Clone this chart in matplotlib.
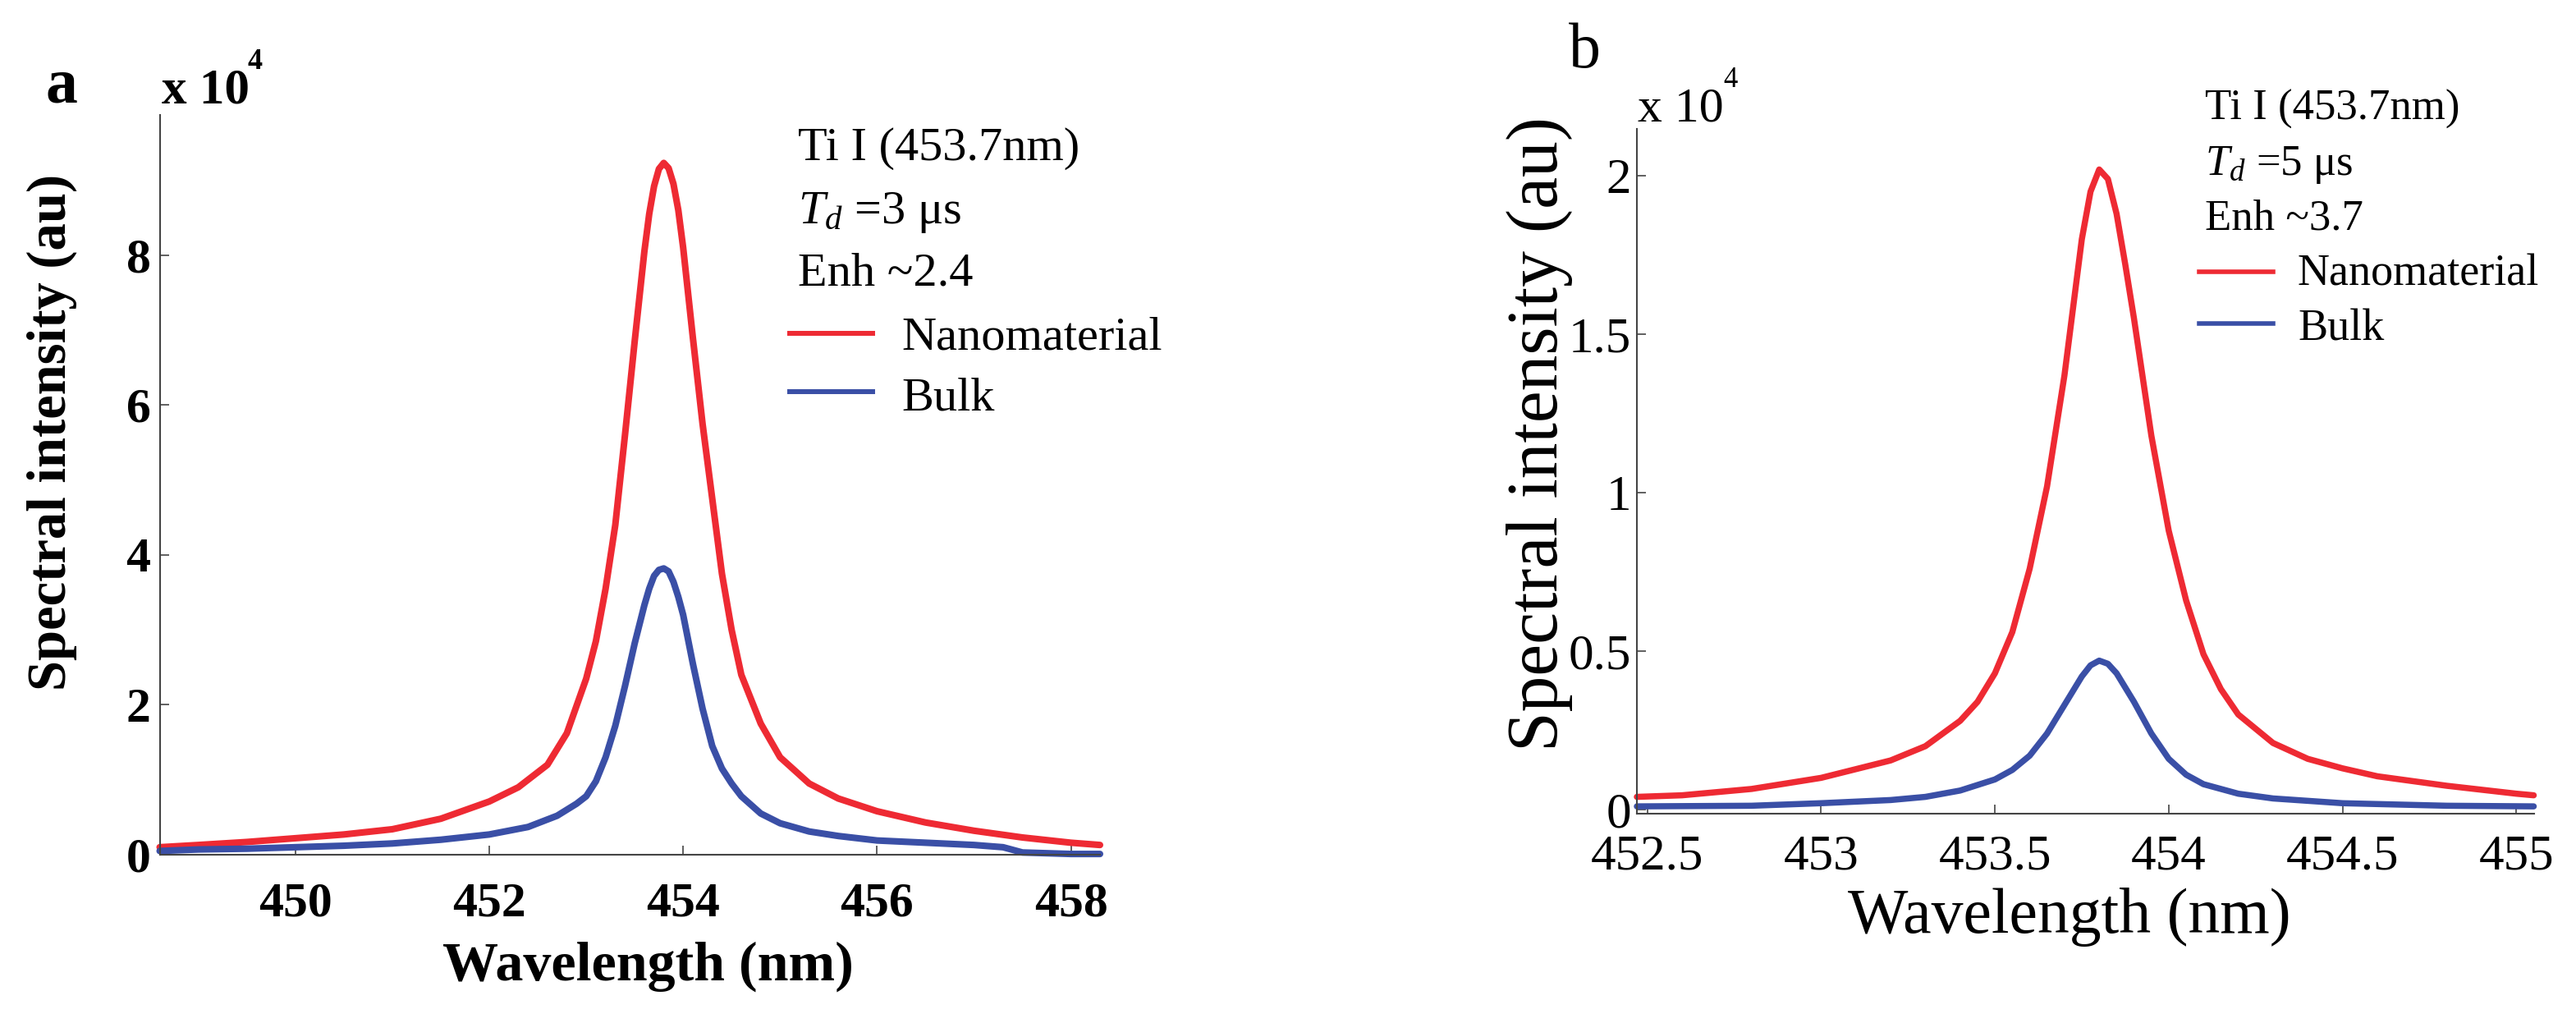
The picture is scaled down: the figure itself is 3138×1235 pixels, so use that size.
import matplotlib
matplotlib.use('Agg')
import matplotlib.pyplot as plt
from matplotlib.lines import Line2D

plt.rcParams['font.family'] = ['Liberation Serif', 'DejaVu Serif']
plt.rcParams['mathtext.fontset'] = 'custom'
plt.rcParams['mathtext.it'] = 'Liberation Serif:italic'
plt.rcParams['mathtext.rm'] = 'Liberation Serif'

# panel a : Td = 3 us
wl_red_a = [448.6, 449.0, 449.5, 450.0, 450.5, 451.0, 451.5, 452.0, 452.3, 452.6, 452.8,
            453.0, 453.1, 453.2, 453.3, 453.4, 453.5, 453.6, 453.65, 453.7, 453.75, 453.8,
            453.85, 453.9, 453.95, 454.0, 454.1, 454.2, 454.3, 454.4, 454.5, 454.6, 454.8,
            455.0, 455.3, 455.6, 456.0, 456.5, 457.0, 457.5, 458.0, 458.3]
int_red_a = [0.10, 0.13, 0.17, 0.22, 0.27, 0.34, 0.48, 0.71, 0.90, 1.20, 1.62,
             2.35, 2.85, 3.55, 4.40, 5.60, 6.85, 8.05, 8.55, 8.92, 9.15, 9.23,
             9.16, 8.95, 8.60, 8.10, 6.90, 5.75, 4.75, 3.75, 3.00, 2.40, 1.75,
             1.30, 0.95, 0.75, 0.58, 0.43, 0.32, 0.23, 0.16, 0.13]
wl_blue_a = [448.6, 449.0, 449.5, 450.0, 450.5, 451.0, 451.5, 452.0, 452.4, 452.7, 452.9,
             453.0, 453.1, 453.2, 453.3, 453.4, 453.5, 453.6, 453.65, 453.7, 453.75, 453.8,
             453.85, 453.9, 453.95, 454.0, 454.1, 454.2, 454.3, 454.4, 454.5, 454.6, 454.8,
             455.0, 455.3, 455.6, 456.0, 456.5, 457.0, 457.3, 457.5, 458.0, 458.3]
int_blue_a = [0.05, 0.07, 0.08, 0.10, 0.12, 0.15, 0.20, 0.27, 0.37, 0.52, 0.68,
              0.78, 0.98, 1.30, 1.72, 2.25, 2.82, 3.33, 3.55, 3.72, 3.80, 3.82,
              3.78, 3.64, 3.44, 3.20, 2.55, 1.95, 1.45, 1.15, 0.95, 0.78, 0.55,
              0.42, 0.31, 0.25, 0.19, 0.16, 0.13, 0.10, 0.03, 0.01, 0.01]

# panel b : Td = 5 us
wl_red_b = [452.47, 452.6, 452.8, 453.0, 453.2, 453.3, 453.4, 453.45, 453.5, 453.55, 453.6,
            453.65, 453.7, 453.75, 453.775, 453.8, 453.825, 453.85, 453.875, 453.9, 453.95,
            454.0, 454.05, 454.1, 454.15, 454.2, 454.3, 454.4, 454.5, 454.6, 454.8, 455.0,
            455.05]
int_red_b = [0.040, 0.045, 0.065, 0.10, 0.155, 0.20, 0.28, 0.34, 0.43, 0.56, 0.76,
             1.02, 1.37, 1.80, 1.95, 2.02, 1.99, 1.88, 1.72, 1.55, 1.18,
             0.88, 0.66, 0.49, 0.38, 0.30, 0.21, 0.16, 0.13, 0.105, 0.075, 0.05,
             0.045]
wl_blue_b = [452.47, 452.8, 453.0, 453.2, 453.3, 453.4, 453.5, 453.55, 453.6, 453.65, 453.7,
             453.75, 453.775, 453.8, 453.825, 453.85, 453.9, 453.95, 454.0, 454.05, 454.1,
             454.2, 454.3, 454.5, 454.8, 455.05]
int_blue_b = [0.010, 0.012, 0.02, 0.03, 0.04, 0.06, 0.095, 0.125, 0.17, 0.24, 0.33,
              0.42, 0.455, 0.47, 0.46, 0.43, 0.34, 0.24, 0.16, 0.11, 0.08,
              0.05, 0.035, 0.02, 0.012, 0.010]

xticks_a = [450, 452, 454, 456, 458]
yticks_a = [0, 2, 4, 6, 8]
xticks_b = [452.5, 453, 453.5, 454, 454.5, 455]
yticks_b = [0, 0.5, 1, 1.5, 2]
ytick_labels_b = ['0', '0.5', '1', '1.5', '2']

RED = '#EE2A33'
BLUE = '#3A4FA6'
W, H = 3138, 1235

fig = plt.figure(figsize=(W / 100, H / 100), dpi=100)


def fx(x):
    return x / W


def fy(y):
    return 1 - y / H


def style_axes(ax, bold, xpad, ypad, size):
    for s in ['top', 'right']:
        ax.spines[s].set_visible(False)
    for s in ['left', 'bottom']:
        ax.spines[s].set_color('#444444')
        ax.spines[s].set_linewidth(1.5)
    ax.tick_params(direction='in', length=8, width=1.2, color='#444444')
    ax.tick_params(axis='x', pad=xpad, labelsize=size)
    ax.tick_params(axis='y', pad=ypad, labelsize=size)
    for lab in ax.get_xticklabels() + ax.get_yticklabels():
        lab.set_fontweight('bold' if bold else 'normal')
    for line in ax.get_lines():
        line.set_clip_on(False)


# ---------------- panel a ----------------
ax1 = fig.add_axes([fx(194.5), fy(1041), fx(1340) - fx(194.5), fy(140) - fy(1041)])
ax1.plot(wl_red_a, int_red_a, color=RED, lw=5.8, solid_capstyle='round', solid_joinstyle='round')
ax1.plot(wl_blue_a, int_blue_a, color=BLUE, lw=5.8, solid_capstyle='round', solid_joinstyle='round')
ax1.set_xlim(448.6, 458.3)
ax1.set_ylim(0, 9.87)
ax1.set_xticks(xticks_a)
ax1.set_yticks(yticks_a)
style_axes(ax1, True, 24, 8, 43)

fig.text(fx(75), fy(106), 'a', fontsize=56, fontweight='bold', ha='center', va='center')
fig.text(fx(197), fy(126), 'x 10', fontsize=44, fontweight='bold', ha='left', va='baseline')
fig.text(fx(311), fy(76), '4', fontsize=26, fontweight='bold', ha='center', va='center')
fig.text(fx(63), fy(526), 'Spectral intensity (au)', fontsize=48, fontweight='bold',
         rotation=90, ha='center', va='center')
fig.text(fx(789), fy(1177), 'Wavelength (nm)', fontsize=49, fontweight='bold',
         ha='center', va='center')

fs_leg_a = 42
fig.text(fx(972), fy(195), 'Ti I (453.7nm)', fontsize=fs_leg_a, va='baseline')
fig.text(fx(972), fy(272), r'$T_d$ =3 μs', fontsize=fs_leg_a, va='baseline')
fig.text(fx(972), fy(347), 'Enh ~2.4', fontsize=fs_leg_a, va='baseline')
fig.add_artist(Line2D([fx(962), fx(1063)], [fy(406), fy(406)], color=RED, lw=4.3))
fig.add_artist(Line2D([fx(962), fx(1063)], [fy(477), fy(477)], color=BLUE, lw=4.3))
fig.text(fx(1098), fy(425), 'Nanomaterial', fontsize=fs_leg_a, va='baseline')
fig.text(fx(1098), fy(500), 'Bulk', fontsize=fs_leg_a, va='baseline')

# ---------------- panel b ----------------
ax2 = fig.add_axes([fx(1994), fy(991), fx(3086.5) - fx(1994), fy(157) - fy(991)])
ax2.plot(wl_red_b, int_red_b, color=RED, lw=5.4, solid_capstyle='round', solid_joinstyle='round')
ax2.plot(wl_blue_b, int_blue_b, color=BLUE, lw=5.4, solid_capstyle='round', solid_joinstyle='round')
ax2.set_xlim(452.47, 455.05)
ax2.set_ylim(-0.013, 2.148)
ax2.set_xticks(xticks_b)
ax2.set_xticklabels([('%g' % v) for v in xticks_b])
ax2.set_yticks(yticks_b)
ax2.set_yticklabels(ytick_labels_b)
style_axes(ax2, False, 18, 5, 44)

fig.text(fx(1930), fy(63), 'b', fontsize=56, ha='center', va='center')
fig.text(fx(1995), fy(147), 'x 10', fontsize=43, ha='left', va='baseline')
fig.text(fx(2108), fy(98), '4', fontsize=25, ha='center', va='center')
fig.text(fx(1876), fy(528), 'Spectral intensity (au)', fontsize=63,
         rotation=90, ha='center', va='center')
fig.text(fx(2521), fy(1136), 'Wavelength (nm)', fontsize=56, ha='center', va='baseline')

fs_leg_b = 38
fig.text(fx(2686), fy(146), 'Ti I (453.7nm)', fontsize=fs_leg_b, va='baseline')
fig.text(fx(2686), fy(213), r'$T_d$ =5 μs', fontsize=fs_leg_b, va='baseline')
fig.text(fx(2686), fy(280), 'Enh ~3.7', fontsize=fs_leg_b, va='baseline')
fig.add_artist(Line2D([fx(2679), fx(2769)], [fy(331), fy(331)], color=RED, lw=4.0))
fig.add_artist(Line2D([fx(2679), fx(2769)], [fy(394), fy(394)], color=BLUE, lw=4.0))
fig.text(fx(2799), fy(348), 'Nanomaterial', fontsize=fs_leg_b + 1, va='baseline')
fig.text(fx(2799), fy(415), 'Bulk', fontsize=fs_leg_b + 1, va='baseline')

fig.savefig('out.png', dpi=100)
